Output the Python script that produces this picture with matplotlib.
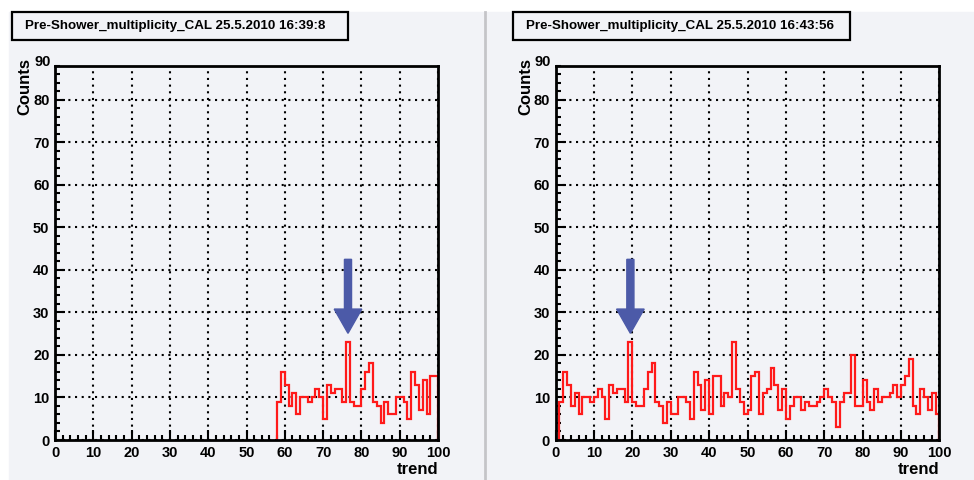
import numpy as np
import matplotlib
matplotlib.use("Agg")
import matplotlib.pyplot as plt
from matplotlib.patches import Rectangle, FancyArrow
from matplotlib.ticker import MultipleLocator

plt.rcParams["font.family"] = ["Liberation Sans", "DejaVu Sans"]
plt.rcParams["font.weight"] = "bold"

# trend histograms, 100 bins of width 1 on 0..100
bin_edges = np.arange(0, 101)

counts_1639 = [
    0, 0, 0, 0, 0, 0, 0, 0, 0, 0, 0, 0, 0, 0, 0, 0, 0, 0, 0, 0,
    0, 0, 0, 0, 0, 0, 0, 0, 0, 0, 0, 0, 0, 0, 0, 0, 0, 0, 0, 0,
    0, 0, 0, 0, 0, 0, 0, 0, 0, 0, 0, 0, 0, 0, 0, 0, 0, 0, 9, 16,
    13, 8, 11, 6, 10, 10, 9, 10, 12, 10, 5, 13, 11, 12, 12, 9, 23, 9, 8, 8,
    12, 16, 18, 9, 8, 4, 9, 6, 6, 10, 10, 9, 5, 16, 13, 7, 14, 6, 15, 15,
]
counts_1643 = [
    0, 9, 16, 13, 8, 11, 6, 10, 10, 9, 10, 12, 10, 5, 13, 11, 12, 12, 9, 23,
    9, 8, 8, 12, 16, 18, 9, 8, 4, 9, 6, 6, 10, 10, 9, 5, 16, 13, 7, 14,
    6, 15, 15, 8, 11, 10, 23, 12, 9, 6, 7, 15, 16, 6, 11, 12, 17, 13, 7, 12,
    5, 8, 10, 10, 7, 9, 8, 8, 9, 10, 12, 10, 9, 3, 9, 11, 11, 20, 8, 8,
    14, 9, 7, 12, 9, 10, 10, 11, 13, 10, 13, 15, 19, 8, 6, 12, 10, 7, 11, 6,
]
titles = ["Pre-Shower_multiplicity_CAL 25.5.2010 16:39:8",
          "Pre-Shower_multiplicity_CAL 25.5.2010 16:43:56"]
marked_bin = [76, 19]

W, H = 974, 480
fig = plt.figure(figsize=(W / 100, H / 100), dpi=100, facecolor="white")
bg = "#f2f3f7"


def px(x0, y0, w, h):
    # pixel box (top-left origin) -> figure fraction
    return [x0 / W, 1 - (y0 + h) / H, w / W, h / H]


panels = [
    dict(pad=(9, 12, 474, 468), box=(12, 12, 336, 28), ax=(55, 65.5, 383, 374.5)),
    dict(pad=(487, 12, 487, 468), box=(513, 12, 337, 28), ax=(555.5, 65.5, 384, 374.5)),
]

for p, counts, title, mb in zip(panels, [counts_1639, counts_1643], titles, marked_bin):
    pd_ = px(*p["pad"])
    fig.patches.append(Rectangle(pd_[:2], pd_[2], pd_[3],
                                 transform=fig.transFigure, color=bg, zorder=-2))
    bx = px(*p["box"])
    fig.patches.append(Rectangle(bx[:2], bx[2], bx[3], transform=fig.transFigure,
                                 facecolor=bg, edgecolor="black", lw=1.6, zorder=-1))
    fig.text(bx[0] + 13 / W, bx[1] + bx[3] / 2, title, fontsize=9.6,
             va="center", ha="left")

    ax = fig.add_axes(px(*p["ax"]))
    ax.set_zorder(1)
    ax.set_facecolor(bg)
    # empty leading bins sit on the axis line, so start the outline at the first filled bin
    c = np.asarray(counts)
    first = int(np.flatnonzero(c)[0])
    ax.stairs(c[first:], bin_edges[first:], baseline=0, color="#ff1a1a", lw=1.6,
              zorder=2)
    ax.set_xlim(0, 100)
    ax.set_ylim(0, 88.1)
    ax.xaxis.set_major_locator(MultipleLocator(10))
    ax.xaxis.set_minor_locator(MultipleLocator(2))
    ax.yaxis.set_major_locator(MultipleLocator(10))
    ax.yaxis.set_minor_locator(MultipleLocator(2))
    ax.grid(True, which="major", color="black", linestyle=(0, (1, 2.2)), lw=1.5)
    ax.tick_params(which="both", direction="in", width=1.5, labelsize=10.5,
                   top=False, right=False)
    ax.tick_params(which="major", length=7.5, pad=4)
    ax.tick_params(which="minor", length=3.8)
    for s in ax.spines.values():
        s.set_linewidth(2)
        s.set_zorder(3)
    # top label of the y axis (axis ends just below 90)
    ax.text(-0.012, 1 + 3.8 / 374.5, "90", transform=ax.transAxes, ha="right",
            va="center", fontsize=10.5)

    # arrow pointing at the marked bin
    peak = counts[mb]
    ax.add_patch(FancyArrow(mb + 0.5, peak + 19.5, 0, -17.4, width=1.85,
                            head_width=7.2, head_length=5.7,
                            length_includes_head=True, color="#4c5aa8",
                            zorder=4))

    axp = p["ax"]
    fig.text((axp[0] - 30) / W, 1 - 58 / H, "Counts", rotation=90, ha="center",
             va="top", fontsize=12)
    fig.text((axp[0] + axp[2]) / W, 1 - 470 / H, "trend", ha="right",
             va="center", fontsize=12)

# thin divider between the two screenshots
fig.add_artist(plt.Line2D([485 / W, 485 / W], [0, 1 - 12 / H],
                          transform=fig.transFigure, color="#c4c4c8", lw=2,
                          zorder=-1))

fig.savefig("out.png", dpi=100, facecolor="white")
